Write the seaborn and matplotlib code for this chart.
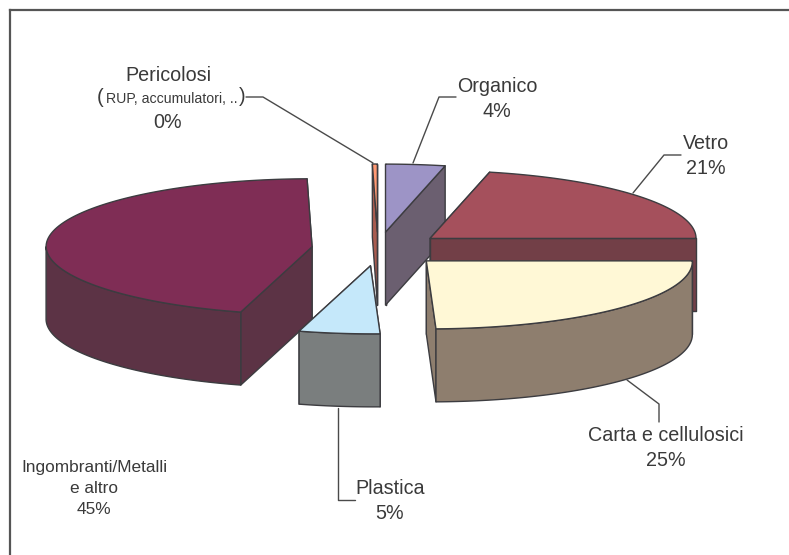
import numpy as np
import seaborn as sns
import matplotlib.pyplot as plt
from matplotlib.patches import Polygon

# slices, clockwise from 12 o'clock
names = ["Organico", "Vetro", "Carta e cellulosici", "Plastica",
         "Ingombranti/Metalli\ne altro", "Pericolosi"]
shares = [3.6, 21.4, 24.6, 4.9, 45.2, 0.3]
top_colors = ["#9D94C6", "#A5505C", "#FFF8D6", "#C5E8FA", "#7F2D55", "#FF9973"]
side_colors = ["#6B5F70", "#723F47", "#8E7E6E", "#7A7E7E", "#5C3345", "#A95C50"]
draw_order = [5, 0, 1, 4, 3, 2]

# where the labels sit and the path of their leader lines
label_xy = [(497, 99.5), (706, 156.5), (666, 448), (390, 501.5), (94, 489), (168, 97)]
leaders = [[(413, 163), (439, 97), (456, 97)],
           [(633, 193), (664, 155), (681, 155)],
           [(627, 380), (659, 404), (659, 422)],
           [(338, 408), (338, 500), (355, 500)],
           None,
           [(373, 163), (263, 97), (246, 97)]]

# pie projection, in pixels
cx, cy = 378, 249
rx, ry = 266, 68
depth = 73
explode = 0.25
edge = "#3c3c40"
text_color = "#3a3a3a"

sns.set_theme(style="white")
plt.rcParams["font.family"] = ["Liberation Sans", "DejaVu Sans"]

fig = plt.figure(figsize=(7.89, 5.55), dpi=100)
ax = fig.add_axes([10 / 789, 0, 1 - 10 / 789, 1 - 10 / 555])
ax.set_xlim(10, 789)
ax.set_ylim(555, 10)
ax.set_xticks([])
ax.set_yticks([])
sns.despine(ax=ax, top=False, left=False, right=True, bottom=True)
for side in ["top", "left"]:
    ax.spines[side].set_color("#555555")
    ax.spines[side].set_linewidth(1.6)


def rim(theta, apex, skew=3):
    # point on the top ellipse, theta in degrees clockwise from top
    # the front of the pie leans a little to the right
    t = np.radians(theta)
    return apex[0] + rx * np.sin(t) + skew * max(0, -np.cos(t)), apex[1] - ry * np.cos(t)


def add_poly(points, color, z):
    ax.add_patch(Polygon(points, closed=True, facecolor=color, edgecolor=edge,
                         linewidth=1.0, joinstyle="round", zorder=z))


ends = np.cumsum(shares) * 3.6
starts = ends - np.array(shares) * 3.6
apexes = []
for a, b in zip(starts, ends):
    mx, my = rim((a + b) / 2, (cx, cy), skew=4)
    apexes.append((cx + explode * (mx - cx), cy + explode * (my - cy)))

z = 2
for i in draw_order:
    a, b = starts[i], ends[i]
    apex = apexes[i]

    # the two cut faces, the one further back first
    faces = sorted([a, b], key=lambda th: -np.cos(np.radians(th)))
    for th in faces:
        p = rim(th, apex)
        add_poly([apex, p, (p[0], p[1] + depth), (apex[0], apex[1] + depth)], side_colors[i], z)
        z += 1

    # outer wall, only the part turned towards the viewer
    lo, hi = max(a, 90), min(b, 270)
    if hi > lo:
        thetas = np.linspace(lo, hi, 80)
        upper = [rim(th, apex) for th in thetas]
        lower = [(x, y + depth) for x, y in upper[::-1]]
        add_poly(upper + lower, side_colors[i], z)
        z += 1

    # top face
    thetas = np.linspace(a, b, 120)
    add_poly([apex] + [rim(th, apex) for th in thetas], top_colors[i], z)
    z += 1

for path in leaders:
    if path is None:
        continue
    xs, ys = zip(*path)
    ax.plot(xs, ys, color="#4a4a4a", lw=1.0, zorder=z)

size = 14.2
for i, (name, (x, y)) in enumerate(zip(names, label_xy)):
    pct = f"{shares[i]:.0f}%"
    if name.startswith("Pericolosi"):
        ax.text(x, 76, name, ha="center", va="center", fontsize=size, color=text_color)
        ax.text(100, 98, "(", ha="center", va="center", fontsize=size, color=text_color)
        ax.text(172, 99, "RUP, accumulatori, ..", ha="center", va="center", fontsize=10.2, color=text_color)
        ax.text(242, 97, ")", ha="center", va="center", fontsize=size, color=text_color)
        ax.text(x, 123, pct, ha="center", va="center", fontsize=size, color=text_color)
    elif "Ingombranti" in name:
        ax.text(x, y, name + "\n" + pct, ha="center", va="center",
                fontsize=12.4, color=text_color, linespacing=1.5)
    else:
        ax.text(x, y, name + "\n" + pct, ha="center", va="center",
                fontsize=size, color=text_color, linespacing=1.4)

fig.savefig("out.png", dpi=100)
